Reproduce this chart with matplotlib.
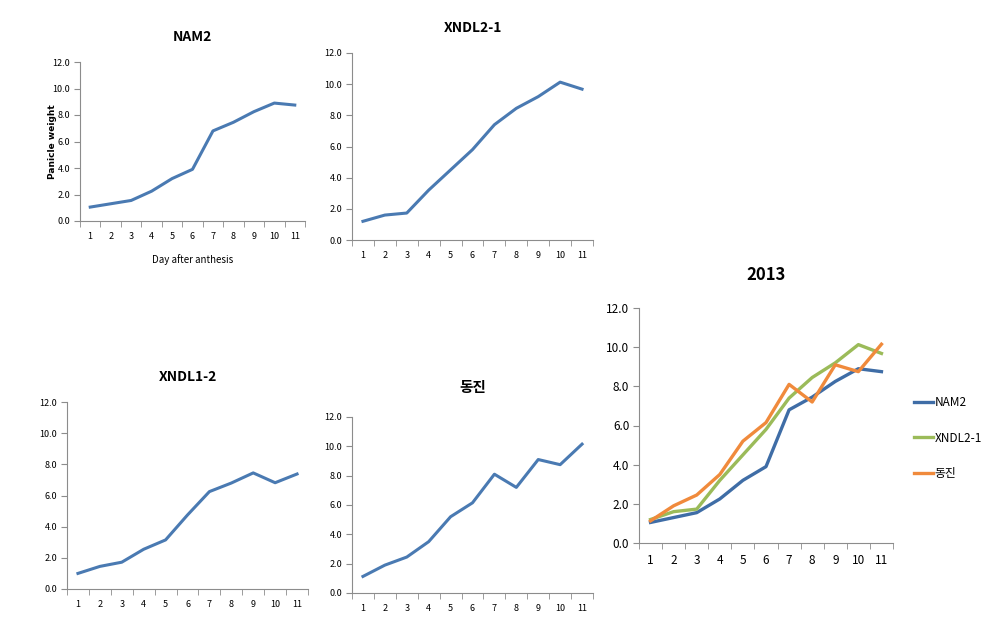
import matplotlib
matplotlib.use("Agg")
import matplotlib.pyplot as plt
import numpy as np

plt.rcParams['font.family'] = ['Liberation Sans Narrow', 'Noto Sans CJK KR', 'DejaVu Sans']

days = [1, 2, 3, 4, 5, 6, 7, 8, 9, 10, 11]
y_ticks = [0, 2, 4, 6, 8, 10, 12]

nam2 = [1.05, 1.3, 1.55, 2.25, 3.2, 3.9, 6.8, 7.45, 8.25, 8.9, 8.75]
xndl2_1 = [1.2, 1.6, 1.73, 3.2, 4.5, 5.8, 7.4, 8.45, 9.2, 10.13, 9.68]
xndl1_2 = [1.0, 1.45, 1.72, 2.55, 3.15, 4.75, 6.25, 6.8, 7.45, 6.82, 7.38]
dongjin = [1.13, 1.9, 2.45, 3.5, 5.2, 6.15, 8.1, 7.2, 9.1, 8.75, 10.15]

titles = ['NAM2', 'XNDL2-1', 'XNDL1-2', '동진', '2013']
legend_labels = ['NAM2', 'XNDL2-1', '동진']

single_color = '#4A7AB2'
c_blue = '#3F6DA6'
c_green = '#9BBB59'
c_orange = '#F08A3C'
axis_color = '#8C8C8C'

W, H = 993, 629
fig = plt.figure(figsize=(W / 100, H / 100), dpi=100)


def add_ax(left, right, top, bottom):
    return fig.add_axes([left / W, (H - bottom) / H, (right - left) / W, (bottom - top) / H])


def style(ax, fs):
    ax.set_xlim(0.5, 11.5)
    ax.set_ylim(0, 12)
    ax.set_yticks(y_ticks)
    ax.set_yticklabels([f'{v:.1f}' for v in y_ticks], fontsize=fs)
    ax.set_xticks(days)
    ax.set_xticklabels([str(d) for d in days], fontsize=fs)
    ax.set_xticks(np.arange(0.5, 11.6, 1.0), minor=True)
    ax.tick_params(axis='x', which='major', length=0, pad=8)
    ax.tick_params(axis='x', which='minor', length=4, color=axis_color, direction='out')
    ax.tick_params(axis='y', length=4, color=axis_color, direction='out', pad=3)
    for s in ['top', 'right']:
        ax.spines[s].set_visible(False)
    for s in ['left', 'bottom']:
        ax.spines[s].set_color(axis_color)
        ax.spines[s].set_linewidth(0.8)
    ax.set_facecolor('none')


# NAM2
ax1 = add_ax(80, 305, 62, 221)
ax1.plot(days, nam2, color=single_color, lw=2.2)
style(ax1, 6.5)
ax1.set_title(titles[0], fontsize=10, fontweight='bold', pad=15)
ax1.set_ylabel('Panicle weight', fontsize=6.5, fontweight='bold', family='DejaVu Sans', labelpad=-3)
ax1.set_xlabel('Day after anthesis', fontsize=7, labelpad=9)

# XNDL2-1
ax2 = add_ax(352, 593, 53, 240)
ax2.plot(days, xndl2_1, color=single_color, lw=2.2)
style(ax2, 6.5)
ax2.set_title(titles[1], fontsize=10, fontweight='bold', pad=15)

# XNDL1-2
ax3 = add_ax(67, 308, 402, 589)
ax3.plot(days, xndl1_2, color=single_color, lw=2.2)
style(ax3, 6.5)
ax3.set_title(titles[2], fontsize=10, fontweight='bold', pad=15)

# 동진
ax4 = add_ax(352, 593, 417, 593)
ax4.plot(days, dongjin, color=single_color, lw=2.2)
style(ax4, 6.5)
ax4.set_title(titles[3], fontsize=10.5, fontweight='bold', pad=18)

# 2013
ax5 = add_ax(639, 893, 308, 543)
l1, = ax5.plot(days, nam2, color=c_blue, lw=2.4)
l2, = ax5.plot(days, xndl2_1, color=c_green, lw=2.4)
l3, = ax5.plot(days, dongjin, color=c_orange, lw=2.4)
style(ax5, 8.5)
ax5.set_title(titles[4], fontsize=12, fontweight='bold', pad=20)

fig.legend([l1, l2, l3], legend_labels, loc='center left',
           bbox_to_anchor=(903 / W, (H - 438) / H), frameon=False,
           fontsize=8.5, handlelength=1.6, handletextpad=0.2, labelspacing=1.9)

fig.savefig('out.png', dpi=100, facecolor='white')
